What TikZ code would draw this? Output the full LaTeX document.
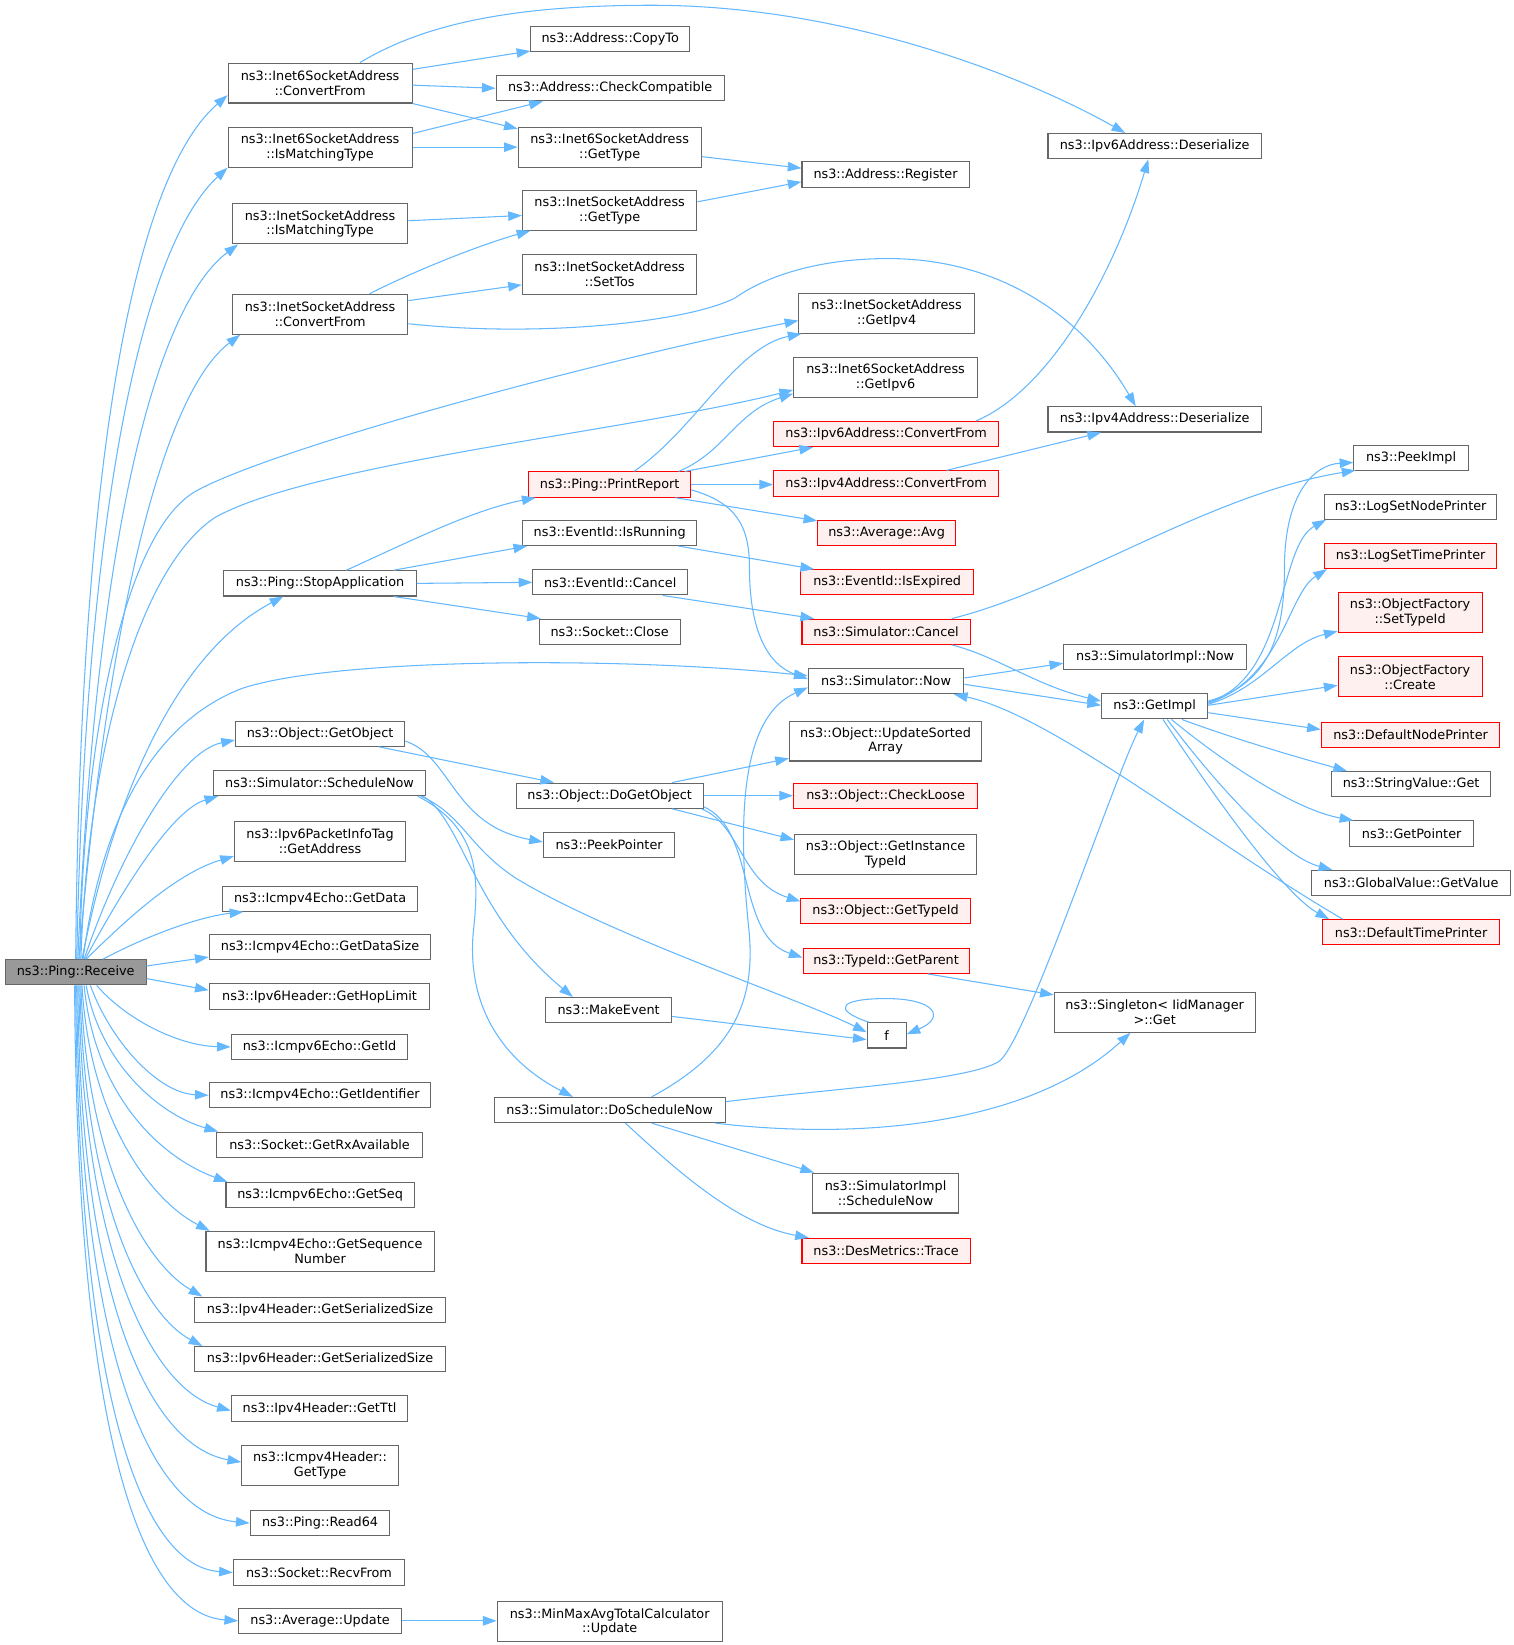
\documentclass[tikz,border=0pt]{standalone}
\usepackage{fontspec}
\setmainfont{DejaVu Sans}
\usetikzlibrary{arrows.meta,calc}
\definecolor{edgeblue}{HTML}{63B8FF}
\definecolor{boxborder}{HTML}{666666}
\definecolor{redfill}{HTML}{FFF0F0}
\definecolor{rcvfill}{HTML}{999999}
\tikzset{
 fn/.style={font=\fontsize{12.2}{14}\selectfont},
 box/.style={draw=boxborder, fill=white, line width=1pt, inner sep=0pt, align=center, minimum height=24pt, fn},
 tall/.style={minimum height=38pt},
 redbox/.style={box, draw=red, fill=redfill},
 e/.style={draw=edgeblue, line width=1pt, -{Triangle[length=13pt,width=9pt]}},
}
\begin{document}
\begin{tikzpicture}[x=1pt,y=-1pt]
\fill[white] (0,0) rectangle (1440,1565);
\useasboundingbox (0,0) rectangle (1440,1565);
% column 1
\node[box, fill=rcvfill, minimum width=134pt] (rcv) at (72,925) {ns3::Ping::Receive};
% column 2
\node[box, tall, minimum width=175pt] (ic6cf) at (304.5,79) {ns3::Inet6SocketAddress\\::ConvertFrom};
\node[box, tall, minimum width=175pt] (ic6mt) at (304.5,140) {ns3::Inet6SocketAddress\\::IsMatchingType};
\node[box, tall, minimum width=167pt] (icmt) at (304.5,213) {ns3::InetSocketAddress\\::IsMatchingType};
\node[box, tall, minimum width=167pt] (iccf) at (304.5,299) {ns3::InetSocketAddress\\::ConvertFrom};
\node[box, minimum width=183pt] (stop) at (304.5,555) {ns3::Ping::StopApplication};
\node[box, minimum width=161pt] (getobj) at (304.5,698) {ns3::Object::GetObject};
\node[box, minimum width=202pt] (schn) at (304,745) {ns3::Simulator::ScheduleNow};
\node[box, tall, minimum width=163pt] (getaddr) at (304.5,800.5) {ns3::Ipv6PacketInfoTag\\::GetAddress};
\node[box, minimum width=185pt] (getdata) at (304.5,855) {ns3::Icmpv4Echo::GetData};
\node[box, minimum width=211pt] (getdsize) at (304.5,901) {ns3::Icmpv4Echo::GetDataSize};
\node[box, minimum width=210pt] (hoplim) at (304,948) {ns3::Ipv6Header::GetHopLimit};
\node[box, minimum width=168pt] (getid) at (304,996) {ns3::Icmpv6Echo::GetId};
\node[box, minimum width=211pt] (getident) at (304.5,1042) {ns3::Icmpv4Echo::GetIdentifier};
\node[box, minimum width=196pt] (rxavail) at (304,1089) {ns3::Socket::GetRxAvailable};
\node[box, minimum width=179pt] (getseq) at (304.5,1137) {ns3::Icmpv6Echo::GetSeq};
\node[box, tall, minimum width=217pt] (getseqnum) at (304.5,1190.5) {ns3::Icmpv4Echo::GetSequence\\Number};
\node[box, minimum width=239pt] (v4ser) at (304.5,1246) {ns3::Ipv4Header::GetSerializedSize};
\node[box, minimum width=239pt] (v6ser) at (304.5,1293) {ns3::Ipv6Header::GetSerializedSize};
\node[box, minimum width=168pt] (getttl) at (304,1340) {ns3::Ipv4Header::GetTtl};
\node[box, tall, minimum width=149pt] (icmph) at (304.5,1394) {ns3::Icmpv4Header::\\GetType};
\node[box, minimum width=133pt] (read64) at (304.5,1449) {ns3::Ping::Read64};
\node[box, minimum width=163pt] (recvfrom) at (303.5,1496) {ns3::Socket::RecvFrom};
\node[box, minimum width=155pt] (avgupd) at (304.5,1542) {ns3::Average::Update};
% column 3
\node[box, minimum width=151pt] (copyto) at (580.5,37) {ns3::Address::CopyTo};
\node[box, minimum width=217pt] (checkc) at (580.5,84) {ns3::Address::CheckCompatible};
\node[box, tall, minimum width=174pt] (i6gt) at (580,140) {ns3::Inet6SocketAddress\\::GetType};
\node[box, tall, minimum width=166pt] (i4gt) at (580,200) {ns3::InetSocketAddress\\::GetType};
\node[box, tall, minimum width=166pt] (settos) at (580,261) {ns3::InetSocketAddress\\::SetTos};
\node[redbox, minimum width=154pt] (printrep) at (580,461) {ns3::Ping::PrintReport};
\node[box, minimum width=166pt] (isrun) at (580,507) {ns3::EventId::IsRunning};
\node[box, minimum width=147pt] (evcancel) at (580.5,554) {ns3::EventId::Cancel};
\node[box, minimum width=134pt] (sclose) at (580,601) {ns3::Socket::Close};
\node[box, minimum width=178pt] (dogetobj) at (580,757) {ns3::Object::DoGetObject};
\node[box, minimum width=125pt] (peekptr) at (579.5,804) {ns3::PeekPointer};
\node[box, minimum width=120pt] (mkev) at (579,961) {ns3::MakeEvent};
\node[box, minimum width=220pt] (dosch) at (580,1056) {ns3::Simulator::DoScheduleNow};
\node[box, tall, minimum width=214pt] (minmax) at (580,1543) {ns3::MinMaxAvgTotalCalculator\\::Update};
% column 4
\node[box, minimum width=159pt] (areg) at (842.5,166) {ns3::Address::Register};
\node[box, tall, minimum width=167pt] (getipv4) at (843.5,298) {ns3::InetSocketAddress\\::GetIpv4};
\node[box, tall, minimum width=175pt] (getipv6) at (842.5,359) {ns3::Inet6SocketAddress\\::GetIpv6};
\node[redbox, minimum width=214pt] (v6cf) at (843,413) {ns3::Ipv6Address::ConvertFrom};
\node[redbox, minimum width=214pt] (v4cf) at (843,460) {ns3::Ipv4Address::ConvertFrom};
\node[redbox, minimum width=131pt] (avg) at (843.5,507) {ns3::Average::Avg};
\node[redbox, minimum width=164pt] (isexp) at (844,554) {ns3::EventId::IsExpired};
\node[redbox, minimum width=160pt] (simcancel) at (843,601) {ns3::Simulator::Cancel};
\node[box, minimum width=148pt] (simnow) at (843,648) {ns3::Simulator::Now};
\node[box, tall, minimum width=183pt] (updsorted) at (842.5,705) {ns3::Object::UpdateSorted\\Array};
\node[redbox, minimum width=175pt] (checkloose) at (842.5,757) {ns3::Object::CheckLoose};
\node[box, tall, minimum width=173pt] (getinst) at (842.5,813) {ns3::Object::GetInstance\\TypeId};
\node[redbox, minimum width=161pt] (gettypeid) at (842.5,867) {ns3::Object::GetTypeId};
\node[redbox, minimum width=158pt] (getparent) at (843,914) {ns3::TypeId::GetParent};
\node[box, minimum width=37pt] (f) at (843.5,985) {f};
\node[box, tall, minimum width=139pt] (implsched) at (842.5,1135) {ns3::SimulatorImpl\\::ScheduleNow};
\node[redbox, minimum width=160pt] (trace) at (843,1190) {ns3::DesMetrics::Trace};
% column 5
\node[box, minimum width=203pt] (v6des) at (1098.5,139) {ns3::Ipv6Address::Deserialize};
\node[box, minimum width=203pt] (v4des) at (1098.5,399) {ns3::Ipv4Address::Deserialize};
\node[box, minimum width=174pt] (implnow) at (1099,625) {ns3::SimulatorImpl::Now};
\node[box, minimum width=101pt] (getimpl) at (1098.5,672) {ns3::GetImpl};
\node[box, tall, minimum width=191pt] (singleton) at (1098.5,963) {ns3::Singleton< IidManager\\>::Get};
% column 6
\node[box, minimum width=109pt] (peekimpl) at (1342.5,436) {ns3::PeekImpl};
\node[box, minimum width=164pt] (lognode) at (1342,482) {ns3::LogSetNodePrinter};
\node[redbox, minimum width=164pt] (logtime) at (1342,529) {ns3::LogSetTimePrinter};
\node[redbox, tall, minimum width=137pt] (settid) at (1341.5,583) {ns3::ObjectFactory\\::SetTypeId};
\node[redbox, tall, minimum width=137pt] (ofcreate) at (1341.5,644) {ns3::ObjectFactory\\::Create};
\node[redbox, minimum width=170pt] (defnode) at (1342,699) {ns3::DefaultNodePrinter};
\node[box, minimum width=151pt] (strget) at (1342.5,746) {ns3::StringValue::Get};
\node[box, minimum width=118pt] (getptr) at (1343,793) {ns3::GetPointer};
\node[box, minimum width=189pt] (gvget) at (1342.5,840) {ns3::GlobalValue::GetValue};
\node[redbox, minimum width=169pt] (deftime) at (1342.5,887) {ns3::DefaultTimePrinter};

% ---- edges from Receive (upwards)
\draw[e] ($(rcv.north)+(0,0)$) .. controls (76,450) and (125,170) .. ($(ic6cf.south west)+(0,-8)$);
\draw[e] ($(rcv.north)+(1,0)$) .. controls (82,460) and (140,230) .. ($(ic6mt.south west)+(0,0)$);
\draw[e] ($(rcv.north)+(2,0)$) .. controls (92,500) and (150,290) .. ($(icmt.south west)+(6,0)$);
\draw[e] ($(rcv.north)+(3,0)$) .. controls (105,560) and (160,370) .. ($(iccf.south west)+(8,0)$);
\draw[e] ($(rcv.north)+(4,0)$) .. controls (78,720) and (115,510) .. (185,468) .. controls (255,428) and (560,345) .. ($(getipv4.west)+(0,7)$);
\draw[e] ($(rcv.north)+(5,0)$) .. controls (82,740) and (125,545) .. (205,492) .. controls (300,440) and (600,410) .. ($(getipv6.west)+(0,12)$);
\draw[e] ($(rcv.north)+(6,0)$) .. controls (110,750) and (170,620) .. ($(stop.south west)+(57,0)$);
\draw[e] ($(rcv.north)+(7,0)$) .. controls (95,790) and (140,690) .. (230,655) .. controls (320,625) and (600,625) .. ($(simnow.west)+(0,-5)$);
\draw[e] ($(rcv.north)+(8,0)$) .. controls (115,810) and (170,715) .. ($(getobj.west)+(0,6)$);
\draw[e] ($(rcv.north)+(9,0)$) .. controls (120,840) and (165,770) .. ($(schn.south west)+(5,0)$);
\draw[e] ($(rcv.north)+(10,0)$) .. controls (125,870) and (170,830) .. ($(getaddr.west)+(0,14)$);
\draw[e] ($(rcv.north)+(26,0)$) .. controls (140,890) and (190,872) .. ($(getdata.south west)+(20,0)$);
\draw[e] ($(rcv.east)+(0,-6)$) -- ($(getdsize.south west)+(0,-3)$);
\draw[e] ($(rcv.east)+(0,6)$) -- ($(hoplim.west)+(0,-6)$);
% ---- edges from Receive (downwards)
\draw[e] ($(rcv.south)+(20,0)$) .. controls (120,970) and (170,995) .. (getid.west);
\draw[e] ($(rcv.south)+(14,0)$) .. controls (105,990) and (150,1040) .. (getident.west);
\draw[e] ($(rcv.south)+(10,0)$) .. controls (95,1010) and (150,1060) .. ($(rxavail.north west)+(2,0)$);
\draw[e] ($(rcv.south)+(8,0)$) .. controls (90,1040) and (150,1100) .. ($(getseq.north west)+(2,0)$);
\draw[e] ($(rcv.south)+(6,0)$) .. controls (85,1060) and (140,1140) .. ($(getseqnum.north west)+(4,0)$);
\draw[e] ($(rcv.south)+(5,0)$) .. controls (82,1100) and (135,1200) .. ($(v4ser.north west)+(8,0)$);
\draw[e] ($(rcv.south)+(4,0)$) .. controls (80,1140) and (135,1250) .. ($(v6ser.north west)+(8,0)$);
\draw[e] ($(rcv.south)+(3,0)$) .. controls (78,1180) and (140,1320) .. ($(getttl.west)+(0,2)$);
\draw[e] ($(rcv.south)+(2,0)$) .. controls (76,1230) and (140,1375) .. ($(icmph.west)+(0,-3)$);
\draw[e] ($(rcv.south)+(1,0)$) .. controls (75,1280) and (140,1440) .. (read64.west);
\draw[e] ($(rcv.south)+(0,0)$) .. controls (74,1310) and (130,1490) .. (recvfrom.west);
\draw[e] ($(rcv.south)+(-1,0)$) .. controls (73,1350) and (130,1535) .. (avgupd.west);

% ---- column 2 edges
\draw[e] ($(ic6cf.east)+(0,-13)$) -- ($(copyto.south west)+(0,-1)$);
\draw[e] ($(ic6cf.east)+(0,2)$) -- (checkc.west);
\draw[e] (ic6cf.south east) -- ($(i6gt.north west)+(0,2)$);
\draw[e] ($(ic6cf.north)+(38,0)$) .. controls (400,25) and (480,5) .. (620,5) .. controls (800,5) and (970,70) .. ($(v6des.north)+(-28,0)$);
\draw[e] ($(ic6mt.east)+(0,-13)$) -- ($(checkc.south west)+(45,0)$);
\draw[e] (ic6mt.east) -- (i6gt.west);
\draw[e] ($(i6gt.east)+(0,9)$) -- ($(areg.west)+(0,-6)$);
\draw[e] ($(icmt.east)+(0,-3)$) -- ($(i4gt.west)+(0,5)$);
\draw[e] ($(i4gt.east)+(0,-8)$) -- ($(areg.west)+(0,7)$);
\draw[e] ($(iccf.north)+(47,0)$) .. controls (400,255) and (460,232) .. ($(i4gt.south west)+(8,0)$);
\draw[e] ($(iccf.east)+(0,-13)$) -- ($(settos.west)+(0,10)$);
\draw[e] ($(iccf.east)+(0,9)$) .. controls (520,322) and (660,305) .. (700,283) .. controls (730,262) and (780,246) .. (845,246) .. controls (950,246) and (1030,300) .. ($(v4des.north)+(-18,0)$);
\draw[e] ($(stop.north)+(25,0)$) .. controls (390,515) and (450,485) .. ($(printrep.south west)+(7,0)$);
\draw[e] ($(stop.north east)+(-22,0)$) -- ($(isrun.south west)+(5,0)$);
\draw[e] (stop.east) -- (evcancel.west);
\draw[e] ($(stop.south east)+(-22,0)$) -- ($(sclose.north west)+(2,0)$);
\draw[e] ($(getobj.south east)+(-25,0)$) -- ($(dogetobj.north)+(-53,0)$);
\draw[e] ($(getobj.east)+(0,7)$) .. controls (430,720) and (430,785) .. ($(peekptr.west)+(0,-3)$);
\draw[e] ($(schn.south east)+(-3,0)$) .. controls (440,780) and (450,870) .. ($(mkev.north)+(-34,0)$);
\draw[e] ($(schn.south east)+(-5,0)$) .. controls (440,775) and (445,805) .. (490,835) .. controls (580,890) and (760,950) .. ($(f.west)+(0,-3)$);
\draw[e] ($(schn.south east)+(-8,0)$) .. controls (460,790) and (455,840) .. (450,890) .. controls (445,960) and (480,1010) .. ($(dosch.north)+(-35,0)$);
\draw[e] (avgupd.east) -- ($(minmax.west)+(0,-1)$);

% ---- column 3 edges
\draw[e] ($(printrep.north)+(23,0)$) .. controls (660,410) and (700,330) .. ($(getipv4.south west)+(3,0)$);
\draw[e] ($(printrep.north east)+(-12,0)$) .. controls (690,430) and (700,392) .. ($(getipv6.south west)+(0,-4)$);
\draw[e] ($(printrep.north east)+(-6,0)$) -- ($(v6cf.south west)+(38,0)$);
\draw[e] (printrep.east) -- ($(v4cf.west)+(0,1)$);
\draw[e] ($(printrep.south east)+(-15,0)$) -- ($(avg.north west)+(0,1)$);
\draw[e] ($(printrep.east)+(0,5)$) .. controls (700,478) and (713,500) .. (713,540) .. controls (713,600) and (730,632) .. ($(simnow.west)+(0,-2)$);
\draw[e] ($(isrun.south east)+(-18,0)$) -- ($(isexp.north west)+(13,0)$);
\draw[e] ($(evcancel.south east)+(-24,0)$) -- ($(simcancel.north west)+(12,0)$);
\draw[e] ($(dogetobj.north east)+(-30,0)$) -- ($(updsorted.south west)+(0,-3)$);
\draw[e] (dogetobj.east) -- (checkloose.west);
\draw[e] ($(dogetobj.south east)+(-30,0)$) -- ($(getinst.west)+(0,-14)$);
\draw[e] ($(dogetobj.south east)+(-2,0)$) .. controls (705,785) and (705,840) .. ($(gettypeid.north west)+(0,3)$);
\draw[e] ($(dogetobj.south east)+(0,-2)$) .. controls (720,790) and (700,890) .. ($(getparent.west)+(0,-3)$);
\draw[e] ($(mkev.east)+(0,6)$) -- ($(f.west)+(0,4)$);
\draw[e] ($(f.north west)+(2,0)$) .. controls (790,960) and (800,950) .. (843,950) .. controls (890,950) and (900,968) .. ($(f.east)+(0,-1)$);
\draw[e] ($(dosch.north)+(40,0)$) .. controls (700,1000) and (720,950) .. (712,880) .. controls (700,760) and (710,680) .. ($(simnow.west)+(0,6)$);
\draw[e] ($(dosch.east)+(0,-8)$) .. controls (800,1035) and (920,1028) .. (950,1010) .. controls (975,995) and (1060,740) .. ($(getimpl.south)+(-10,0)$);
\draw[e] ($(dosch.south east)+(-10,0)$) .. controls (820,1085) and (980,1070) .. ($(singleton.south)+(-23,0)$);
\draw[e] ($(dosch.south)+(40,0)$) -- ($(implsched.north west)+(2,0)$);
\draw[e] ($(dosch.south)+(15,0)$) .. controls (640,1110) and (700,1165) .. ($(trace.north west)+(7,0)$);

% ---- column 4 edges
\draw[e] ($(v6cf.north east)+(-22,0)$) .. controls (1000,370) and (1060,260) .. ($(v6des.south)+(-6,0)$);
\draw[e] ($(v4cf.north east)+(-50,0)$) -- ($(v4des.south)+(-51,0)$);
\draw[e] ($(simcancel.north east)+(-18,0)$) .. controls (1020,560) and (1150,470) .. ($(peekimpl.south west)+(2,-1)$);
\draw[e] ($(simcancel.south east)+(-18,0)$) .. controls (950,625) and (985,652) .. ($(getimpl.west)+(0,-5)$);
\draw[e] ($(simnow.east)+(0,-3)$) -- ($(implnow.west)+(0,6)$);
\draw[e] ($(simnow.east)+(0,3)$) -- ($(getimpl.west)+(0,-1)$);
\draw[e] ($(getparent.south east)+(-40,0)$) -- ($(singleton.north west)+(0,3)$);

% ---- column 5/6 edges
\draw[e] ($(deftime.north west)+(20,0)$) .. controls (1150,800) and (1000,680) .. ($(simnow.south east)+(-10,0)$);
\draw[e] ($(getimpl.east)+(0,-5)$) .. controls (1210,650) and (1222,600) .. (1222,540) .. controls (1222,470) and (1250,442) .. ($(peekimpl.west)+(0,4)$);
\draw[e] ($(getimpl.east)+(0,-4)$) .. controls (1225,645) and (1215,520) .. ($(lognode.south west)+(2,0)$);
\draw[e] ($(getimpl.east)+(0,-3)$) .. controls (1220,645) and (1225,565) .. ($(logtime.south west)+(3,0)$);
\draw[e] ($(getimpl.east)+(0,-2)$) .. controls (1200,655) and (1225,612) .. ($(settid.south west)+(0,-2)$);
\draw[e] ($(getimpl.east)+(0,-1)$) -- ($(ofcreate.west)+(0,8)$);
\draw[e] ($(getimpl.east)+(0,6)$) -- ($(defnode.west)+(0,-5)$);
\draw[e] ($(getimpl.south)+(26,0)$) .. controls (1180,705) and (1240,722) .. ($(strget.north west)+(15,0)$);
\draw[e] ($(getimpl.south)+(16,0)$) .. controls (1160,722) and (1230,770) .. ($(getptr.north west)+(4,0)$);
\draw[e] ($(getimpl.south)+(12,0)$) .. controls (1160,750) and (1220,815) .. ($(gvget.north west)+(20,0)$);
\draw[e] ($(getimpl.south)+(8,0)$) .. controls (1150,750) and (1220,850) .. ($(deftime.north west)+(7,0)$);
\end{tikzpicture}
\end{document}
